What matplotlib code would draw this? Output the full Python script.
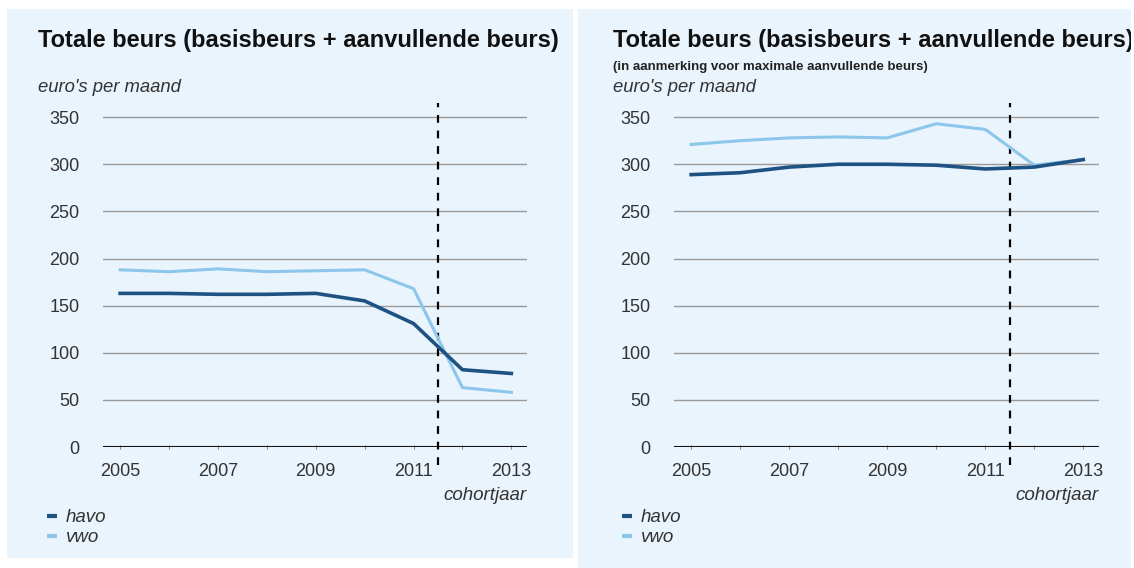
import matplotlib.pyplot as plt
from matplotlib.patches import Rectangle
from matplotlib.lines import Line2D

plt.rcParams['font.family'] = ['Liberation Sans', 'DejaVu Sans']

jaren = [2005, 2006, 2007, 2008, 2009, 2010, 2011, 2012, 2013]
jaar_labels = ['2005', '', '2007', '', '2009', '', '2011', '', '2013']
y_ticks = [0, 50, 100, 150, 200, 250, 300, 350]

# links: totale beurs
havo_links = [163, 163, 162, 162, 163, 155, 131, 82, 78]
vwo_links = [188, 186, 189, 186, 187, 188, 168, 63, 58]

# rechts: in aanmerking voor maximale aanvullende beurs
havo_rechts = [289, 291, 297, 300, 300, 299, 295, 297, 305]
vwo_rechts = [321, 325, 328, 329, 328, 343, 337, 299, 305]

grens_jaar = 2011.5

titel = 'Totale beurs (basisbeurs + aanvullende beurs)'
subtitel = '(in aanmerking voor maximale aanvullende beurs)'

bg = '#eaf4fc'
c_havo = '#1d5282'
c_vwo = '#8cc6ea'
W, H = 1134, 568

fig = plt.figure(figsize=(W / 100, H / 100), dpi=100)
fig.patch.set_facecolor('white')


def fx(px):
    return px / W


def fy(py):
    return 1 - py / H


def paneel(x0, x1, y0, y1, ax_left, ax_right, tx, havo, vwo, sub):
    rect = Rectangle((fx(x0), fy(y1)), fx(x1) - fx(x0), fy(y0) - fy(y1),
                     transform=fig.transFigure, facecolor=bg, edgecolor='none', zorder=-5)
    fig.patches.append(rect)

    ax = fig.add_axes([fx(ax_left), fy(447), fx(ax_right) - fx(ax_left), fy(103) - fy(447)])
    ax.set_zorder(2)
    ax.set_facecolor('none')
    ax.set_xlim(2004.65, 2013.32)
    ax.set_ylim(0, 365)
    for s in ax.spines.values():
        s.set_visible(False)
    ax.set_yticks(y_ticks)
    ax.yaxis.grid(True, color='#9a9a9a', lw=1.0)
    ax.tick_params(axis='y', length=0, pad=17, labelsize=13, labelcolor='#333333')
    ax.set_xticks(jaren)
    ax.set_xticklabels(jaar_labels)
    ax.tick_params(axis='x', length=3, width=0.8, color='#888888', direction='inout',
                   pad=10, labelsize=13, labelcolor='#333333')
    ax.axhline(0, color='#111111', lw=2.2, zorder=3)
    ax.plot([grens_jaar, grens_jaar], [-19, 365], color='black', lw=1.6,
            ls=(0, (3.5, 3.5)), clip_on=False, zorder=4)
    ax.plot(jaren, vwo, color=c_vwo, lw=2.2, zorder=5)
    ax.plot(jaren, havo, color=c_havo, lw=2.6, zorder=6)

    t = fig.text(fx(tx), fy(41), titel, fontsize=17, fontweight='bold',
                 color='#111111', va='center', ha='left')
    t.set_clip_path(rect)
    if sub:
        fig.text(fx(tx), fy(67), sub, fontsize=9.5, fontweight='bold',
                 color='#222222', va='center', ha='left')
    fig.text(fx(tx), fy(87), "euro's per maand", fontsize=13.3, style='italic',
             color='#333333', va='center', ha='left')
    fig.text(fx(ax_right), fy(495), 'cohortjaar', fontsize=13.5, style='italic',
             color='#333333', va='center', ha='right')

    handles = [Line2D([], [], color=c_havo, lw=3, solid_capstyle='butt'),
               Line2D([], [], color=c_vwo, lw=3, solid_capstyle='butt')]
    fig.legend(handles, ['havo', 'vwo'], loc='upper left',
               bbox_to_anchor=(fx(tx), fy(500)), frameon=False,
               handlelength=0.5, handletextpad=0.5, labelspacing=0.15,
               borderpad=0, prop={'size': 13.5, 'style': 'italic'},
               labelcolor='#333333')
    return ax


paneel(7, 573, 9, 558, 103, 527, 38, havo_links, vwo_links, None)
paneel(578, 1131, 9, 568, 674, 1099, 613, havo_rechts, vwo_rechts, subtitel)

fig.savefig('out.png', dpi=100, facecolor='white')
